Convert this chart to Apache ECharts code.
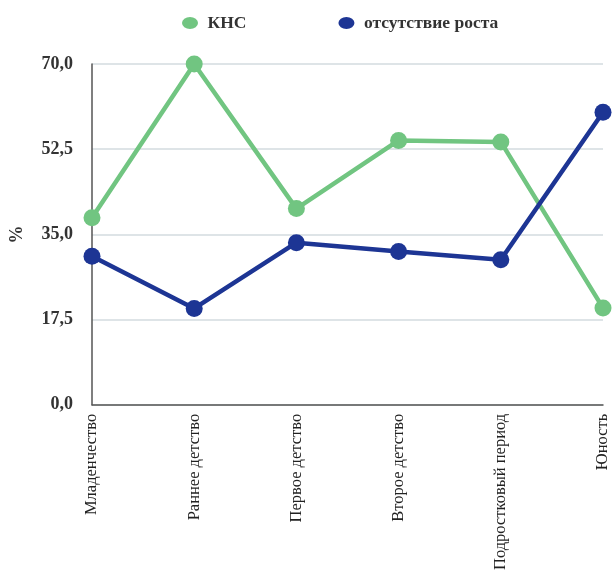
<!DOCTYPE html>
<html>
<head>
<meta charset="utf-8">
<script src="https://cdn.jsdelivr.net/npm/echarts@6/dist/echarts.min.js"></script>
<style>
  html, body { margin: 0; padding: 0; background: #ffffff; }
  #chart { width: 613px; height: 573px; }
</style>
</head>
<body>
<div id="chart"></div>
<script>
// Age periods along the x axis
const periods = ['Младенчество', 'Раннее детство', 'Первое детство', 'Второе детство', 'Подростковый период', 'Юность'];
// Share of cases, %
const knsValues = [38.4, 70.0, 40.3, 54.3, 54.0, 19.9];
const noGrowthValues = [30.5, 19.8, 33.3, 31.5, 29.8, 60.1];
const seriesNames = ['КНС', 'отсутствие роста'];
const yTicks = [0, 17.5, 35, 52.5, 70];

const font = '"Liberation Serif", "DejaVu Serif", serif';
// Slightly flattened dot used as the legend marker
const legendDot = 'path://M0,6 A8,6 0 1,0 16,6 A8,6 0 1,0 0,6 Z';
const chart = echarts.init(document.getElementById('chart'), null, { renderer: 'canvas' });

chart.setOption({
  animation: false,
  textStyle: { fontFamily: font },
  color: ['#71c581', '#1d3594'],
  legend: {
    top: 9,
    left: 177,
    itemGap: 92,
    itemWidth: 17,
    itemHeight: 12,
    icon: legendDot,
    textStyle: { fontFamily: font, fontSize: 17.5, fontWeight: 'bold', color: '#333333', padding: [0, 0, 0, 4] },
    data: seriesNames
  },
  grid: { left: 92, right: 10, top: 64, bottom: 166, containLabel: false },
  xAxis: {
    type: 'category',
    data: periods,
    boundaryGap: false,
    axisLine: { lineStyle: { color: '#555555', width: 1.5 } },
    axisTick: { show: false },
    axisLabel: {
      rotate: 90,
      interval: 0,
      margin: 9,
      fontFamily: font,
      fontSize: 16.5,
      color: '#222222'
    }
  },
  yAxis: {
    type: 'value',
    min: yTicks[0],
    max: yTicks[yTicks.length - 1],
    interval: 17.5,
    name: '%',
    nameLocation: 'middle',
    nameGap: 66,
    nameRotate: 90,
    nameTextStyle: { fontFamily: font, fontSize: 18, fontWeight: 'bold', color: '#333333' },
    axisLine: { show: true, lineStyle: { color: '#555555', width: 1.5 } },
    axisTick: { show: false },
    splitLine: { lineStyle: { color: '#d3dbdf', width: 1.5 } },
    axisLabel: {
      margin: 19,
      fontFamily: font,
      fontSize: 18,
      fontWeight: 'bold',
      color: '#333333',
      formatter: v => v.toFixed(1).replace('.', ',')
    }
  },
  series: [
    {
      name: seriesNames[0],
      type: 'line',
      data: knsValues,
      symbol: 'circle',
      symbolSize: 17,
      lineStyle: { width: 4.5 },
      itemStyle: { color: '#71c581' }
    },
    {
      name: seriesNames[1],
      type: 'line',
      data: noGrowthValues,
      symbol: 'circle',
      symbolSize: 17,
      lineStyle: { width: 4.5 },
      itemStyle: { color: '#1d3594' }
    }
  ]
});
</script>
</body>
</html>
